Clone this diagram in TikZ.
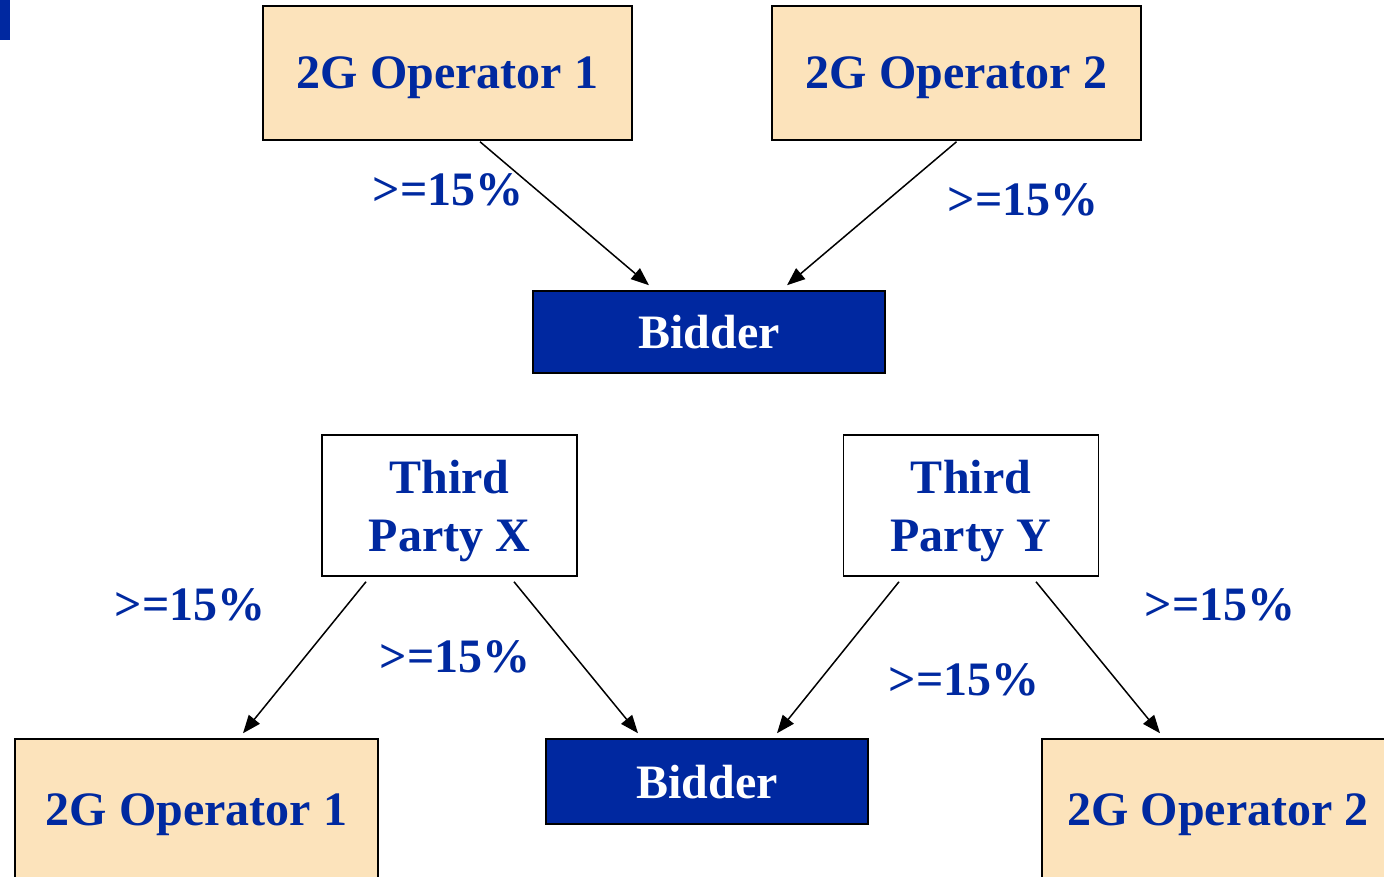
\documentclass[tikz,border=0pt]{standalone}
\usepackage{fontspec}
\setmainfont{Liberation Serif}
\usetikzlibrary{arrows.meta}
\definecolor{opfill}{HTML}{FCE3BB}
\definecolor{txtblue}{HTML}{0029A0}
\definecolor{bidfill}{HTML}{0028A0}
\tikzset{
  box/.style={draw=black, line width=1.5pt, inner sep=0pt, text depth=0pt, font=\fontsize{48}{58}\selectfont\bfseries},
  opbox/.style={box, fill=opfill, text=txtblue, minimum width=369pt, minimum height=134pt},
  bidbox/.style={box, fill=bidfill, text=white},
  tpbox/.style={box, fill=white, text=txtblue, align=center, minimum width=255pt, minimum height=141pt},
  pct/.style={text=txtblue, font=\fontsize{48}{58}\selectfont\bfseries, inner sep=0pt},
  arr/.style={line width=1.5pt, -{Triangle[length=18pt,width=14pt]}}
}
\begin{document}
\begin{tikzpicture}[x=1pt,y=-1pt]
\useasboundingbox (0,0) rectangle (1384,877);
\clip (0,0) rectangle (1384,877);
\fill[bidfill] (0,0) rectangle (10,40);
% top
\node[opbox] (op1) at (447.5,73) {2G Operator 1};
\node[opbox] (op2) at (956.5,73) {2G Operator 2};
\node[bidbox, minimum width=352pt, minimum height=82pt] (bid1) at (709,332) {Bidder};
\draw[arr] ([xshift=32.5pt,yshift=-1pt]op1.south) -- ([xshift=-60pt,yshift=5pt]bid1.north);
\draw[arr] ([xshift=0pt,yshift=-1pt]op2.south) -- ([xshift=78pt,yshift=5pt]bid1.north);
\node[pct] (p1) at (448,190) {>=15\%};
\node[pct] (p2) at (1023,200) {>=15\%};
% bottom
\node[tpbox] (tpx) at (449.5,505.5) {Third\\Party X};
\node[tpbox] (tpy) at (971,505.5) {Third\\Party Y};
\node[opbox, minimum width=363pt, minimum height=160pt] (bop1) at (196.5,819) {};
\node[text=txtblue, text depth=0pt, font=\fontsize{48}{58}\selectfont\bfseries] (bop1t) at (196.5,810) {2G Operator 1};
\node[opbox, minimum width=363pt, minimum height=160pt] (bop2) at (1223.5,819) {};
\node[text=txtblue, text depth=0pt, font=\fontsize{48}{58}\selectfont\bfseries] (bop2t) at (1218,810) {2G Operator 2};
\node[bidbox, minimum width=322pt, minimum height=85pt] (bid2) at (707,781.5) {Bidder};
\draw[arr] ([xshift=-83.5pt,yshift=-5pt]tpx.south) -- ([xshift=46.5pt,yshift=5pt]bop1.north);
\draw[arr] ([xshift=64.5pt,yshift=-5pt]tpx.south) -- ([xshift=-69pt,yshift=5pt]bid2.north);
\draw[arr] ([xshift=-72pt,yshift=-5pt]tpy.south) -- ([xshift=70pt,yshift=5pt]bid2.north);
\draw[arr] ([xshift=65pt,yshift=-5pt]tpy.south) -- ([xshift=-63.5pt,yshift=5pt]bop2.north);
\node[pct] (p3) at (190,605) {>=15\%};
\node[pct] (p4) at (455,657) {>=15\%};
\node[pct] (p5) at (964,680) {>=15\%};
\node[pct] (p6) at (1220,605) {>=15\%};
\end{tikzpicture}
\end{document}
